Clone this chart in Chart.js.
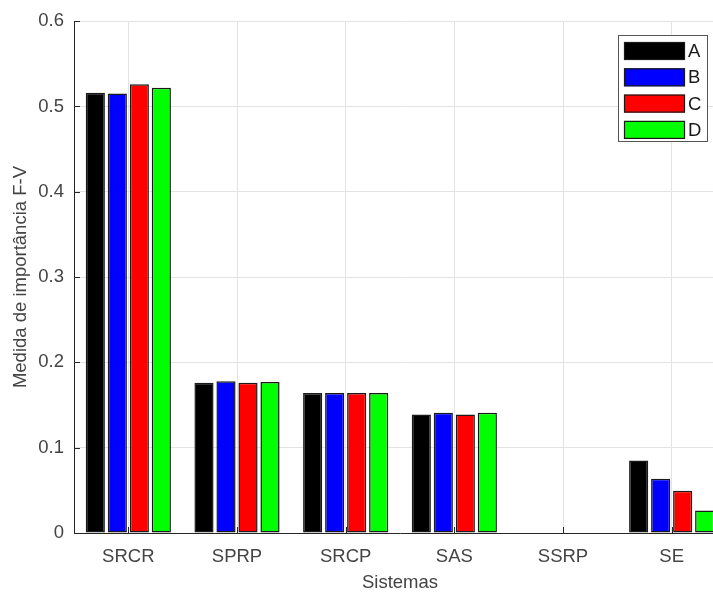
<!DOCTYPE html>
<html>
<head>
<meta charset="utf-8">
<script src="https://cdn.jsdelivr.net/npm/chart.js@4"></script>
<style>
html,body{margin:0;padding:0;background:#fff;overflow:hidden;width:713px;height:594px;}
#wrap{width:740px;height:594px;}
</style>
</head>
<body>
<div id="wrap"><canvas id="c" width="740" height="594"></canvas></div>
<script>
const categories = ['SRCR', 'SPRP', 'SRCP', 'SAS', 'SSRP', 'SE'];
const seriesNames = ['A', 'B', 'C', 'D'];
const seriesA = [0.516, 0.176, 0.164, 0.139, 0, 0.085];
const seriesB = [0.515, 0.178, 0.164, 0.141, 0, 0.0635];
const seriesC = [0.526, 0.176, 0.164, 0.139, 0, 0.0495];
const seriesD = [0.522, 0.177, 0.164, 0.141, 0, 0.0265];
const yTicks = [0, 0.1, 0.2, 0.3, 0.4, 0.5, 0.6];
const colors = ['#000000', '#0000ff', '#ff0000', '#00ff00'];

const FONT = "'Liberation Sans', Arial, sans-serif";
const FS = 18.5;
const TXT = '#444444';
const AX = '#262626';

const allSeries = [seriesA, seriesB, seriesC, seriesD];
const datasets = allSeries.map((s, i) => ({
  label: seriesNames[i],
  data: s,
  backgroundColor: colors[i],
  borderColor: '#1a1a1a',
  borderWidth: 1.5,
  borderSkipped: false,
  categoryPercentage: 0.81,
  barPercentage: 0.87
}));

const innerTicks = {
  id: 'innerTicks',
  afterDatasetsDraw(chart) {
    const ctx = chart.ctx;
    const x = chart.scales.x, y = chart.scales.y;
    const a = chart.chartArea;
    ctx.save();
    ctx.strokeStyle = AX;
    ctx.lineWidth = 1;
    ctx.beginPath();
    yTicks.forEach(v => {
      const py = Math.round(y.getPixelForValue(v)) + 0.5;
      ctx.moveTo(a.left, py);
      ctx.lineTo(a.left + 6, py);
    });
    categories.forEach((c, i) => {
      const px = Math.round(x.getPixelForValue(i)) + 0.5;
      ctx.moveTo(px, a.bottom);
      ctx.lineTo(px, a.bottom - 6);
    });
    ctx.stroke();
    ctx.restore();
  }
};

const boxLegend = {
  id: 'boxLegend',
  afterDraw(chart) {
    const ctx = chart.ctx;
    const bx = 618, by = 35, bw = 90, bh = 107;
    ctx.save();
    ctx.fillStyle = '#fff';
    ctx.fillRect(bx, by, bw, bh);
    ctx.strokeStyle = '#555';
    ctx.lineWidth = 1;
    ctx.strokeRect(bx + 0.5, by + 0.5, bw - 1, bh - 1);
    chart.data.datasets.forEach((ds, i) => {
      const ry = by + 7 + i * 26.3;
      ctx.fillStyle = ds.backgroundColor;
      ctx.fillRect(624, ry, 61, 18);
      ctx.strokeStyle = '#1a1a1a';
      ctx.lineWidth = 1.2;
      ctx.strokeRect(624.5, ry + 0.5, 60, 17);
      ctx.fillStyle = '#1a1a1a';
      ctx.font = FS + 'px ' + FONT;
      ctx.textBaseline = 'middle';
      ctx.textAlign = 'left';
      ctx.fillText(ds.label, 688, ry + 10);
    });
    ctx.restore();
  }
};

new Chart(document.getElementById('c'), {
  type: 'bar',
  data: { labels: categories, datasets: datasets },
  options: {
    responsive: false,
    animation: false,
    layout: { padding: { top: 19, right: 14, left: 0, bottom: 0 } },
    plugins: { legend: { display: false }, tooltip: { enabled: false } },
    scales: {
      x: {
        grid: { offset: false, color: '#e3e3e3', drawTicks: false },
        border: { display: true, color: AX, width: 1 },
        ticks: { color: TXT, font: { family: FONT, size: FS }, padding: 13 },
        title: { display: true, text: 'Sistemas', color: TXT, font: { family: FONT, size: FS }, padding: { top: 0, bottom: 0 } },
        afterFit(s) { s.height = 61; }
      },
      y: {
        min: 0, max: 0.6,
        afterBuildTicks(s) { s.ticks = yTicks.map(v => ({ value: v })); },
        grid: { color: '#e3e3e3', drawTicks: false },
        border: { display: true, color: AX, width: 1 },
        ticks: {
          color: TXT, font: { family: FONT, size: FS }, padding: 10,
          callback: v => (v === 0 ? '0' : String(Math.round(v * 10) / 10))
        },
        title: { display: true, text: 'Medida de importância F-V', color: TXT, font: { family: FONT, size: FS }, padding: { top: 10, bottom: 0 } },
        afterFit(s) { s.width = 74; }
      }
    }
  },
  plugins: [innerTicks, boxLegend]
});
</script>
</body>
</html>
